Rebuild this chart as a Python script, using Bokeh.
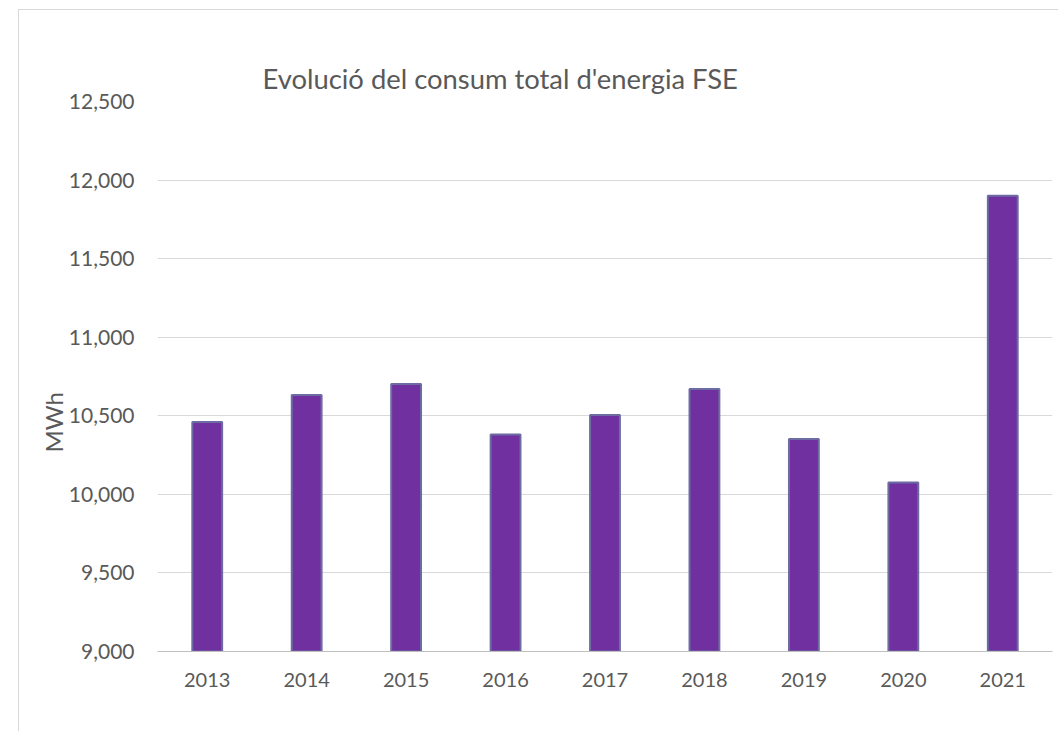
from bokeh.plotting import figure
from bokeh.models import FixedTicker, NumeralTickFormatter, Range1d, FactorRange, Title
from bokeh.embed import file_html
from bokeh.resources import INLINE

years = ["2013", "2014", "2015", "2016", "2017", "2018", "2019", "2020", "2021"]
consum = [10460, 10632, 10702, 10381, 10505, 10670, 10352, 10075, 11900]
y_ticks = [9000, 9500, 10000, 10500, 11000, 11500, 12000, 12500]
title_text = "Evolució del consum total d'energia FSE"
y_label = "MWh"

FONT = "Lato"
TXT = "#595959"

p = figure(
    width=1040, height=722,
    x_range=FactorRange(*years, range_padding=0),
    y_range=Range1d(9000, 12500),
    output_backend="svg", toolbar_location=None,
    min_border_left=138, min_border_right=7, min_border_top=91, min_border_bottom=81,
)
p.styles = {"border-left": "1px solid #d9d9d9", "border-top": "1px solid #d9d9d9",
            "margin-left": "18px", "margin-top": "9px"}

p.vbar(x=years, top=consum, bottom=9000, width=0.30,
       fill_color="#7030A0", line_color="#6c6ca2", line_width=2)

p.title.text = title_text
p.title.text_font = FONT
p.title.text_font_size = "27.4px"
p.title.text_font_style = "normal"
p.title.text_color = TXT
p.title.align = "left"
p.title.offset = 105
p.title.standoff = 13

p.outline_line_color = None
p.xgrid.grid_line_color = None
p.ygrid.grid_line_color = "#d9d9d9"
p.ygrid.grid_line_width = 1

p.yaxis.ticker = FixedTicker(ticks=y_ticks)
p.yaxis.formatter = NumeralTickFormatter(format="0,0")
p.yaxis.axis_line_color = None
p.yaxis.major_tick_line_color = None
p.yaxis.minor_tick_line_color = None
p.yaxis.major_label_standoff = 17

# axis title, as a vertical title in the left panel (beside the 10,500 tick)
ylab = Title(text=y_label, align="left", offset=199, standoff=-5,
             text_font=FONT, text_font_size="24px", text_font_style="normal",
             text_color=TXT)
p.add_layout(ylab, "left")

p.xaxis.axis_line_color = "#bfbfbf"
p.xaxis.major_tick_line_color = None
p.xaxis.minor_tick_line_color = None
p.xaxis.major_label_standoff = 15

p.xaxis.major_label_text_font = FONT
p.xaxis.major_label_text_font_size = "20px"
p.xaxis.major_label_text_color = TXT
p.yaxis.major_label_text_font = FONT
p.yaxis.major_label_text_font_size = "21px"
p.yaxis.major_label_text_color = TXT

open("out.html", "w").write(file_html(p, INLINE))
